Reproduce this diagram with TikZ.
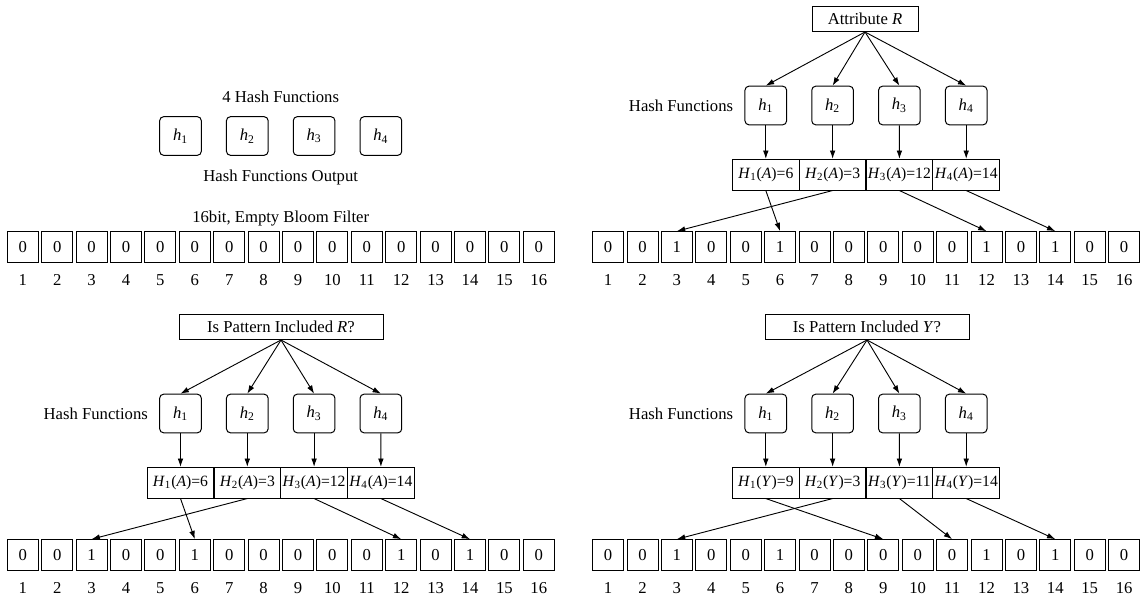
\documentclass[tikz,border=0pt]{standalone}
\usepackage{fontspec}
\setmainfont{Liberation Serif}
\usetikzlibrary{positioning,arrows.meta}

\begin{document}
\begin{tikzpicture}[x=0.6pt,y=-0.6pt,
  every node/.style={inner sep=0pt,font=\fontsize{10}{12}\selectfont},%
  bx/.style={draw,line width=0.6pt},%
  bit/.style={bx,minimum width=18.6pt,minimum height=18.4pt},%
  hf/.style={bx,rounded corners=2.4pt,minimum width=25pt,minimum height=23.2pt},%
  hv/.style={bx,minimum width=40.2pt,minimum height=18.4pt,font=\fontsize{9.4}{11}\selectfont},%
  q/.style={bx,minimum height=15pt},%
  e/.style={-{Latex[length=5pt,width=3.4pt]},line width=0.55pt},%
  ]
  \useasboundingbox (0,0) rectangle (1148,599);

  % empty filter
  \node (e-title) at (280.7,97) {4 Hash Functions};
  \foreach \k in {1,...,4}
    \node (e-h\k) [hf] at ({180.5+(\k-1)*66.8},136) {\textit{h}\textsubscript{\k}};
  \node (e-out) at (280.7,177) {Hash Functions Output};
  \node (e-cap) at (280.7,218.5) {16bit, Empty Bloom Filter};
  \foreach \v [count=\i] in {0,0,0,0,0,0,0,0,0,0,0,0,0,0,0,0} {
    \node (e-b\i) [bit] at ({22.8+(\i-1)*34.4},247) {\v};
    \node (e-n\i) at ({22.8+(\i-1)*34.4},280) {\i};
  }

  % insert attribute R
  \node (a-src) [q,minimum width=63.6pt] at (865,19) {Attribute \textit{R}};
  \foreach \k in {1,...,4}
    \node (a-h\k) [hf] at ({765.8+(\k-1)*66.8},105.5) {\textit{h}\textsubscript{\k}};
  \node (a-lbl) [left=6.6pt of a-h1] {Hash Functions};
  \node (a-H1) [hv] at (765.8,174.7) {\textit{H}\textsubscript{1}(\textit{A})=6};
  \node (a-H2) [hv] at (832.6,174.7) {\textit{H}\textsubscript{2}(\textit{A})=3};
  \node (a-H3) [hv] at (899.4,174.7) {\textit{H}\textsubscript{3}(\textit{A})=12};
  \node (a-H4) [hv] at (966.2,174.7) {\textit{H}\textsubscript{4}(\textit{A})=14};
  \foreach \v [count=\i] in {0,0,1,0,0,1,0,0,0,0,0,1,0,1,0,0} {
    \node (a-b\i) [bit] at ({608.1+(\i-1)*34.4},247) {\v};
    \node (a-n\i) at ({608.1+(\i-1)*34.4},280) {\i};
  }
  \foreach \k in {1,...,4} {
    \draw [e] (a-src.south) -- (a-h\k.north);
    \draw [e] (a-h\k) -- (a-H\k);
  }
  \draw [e] (a-H1.south) -- (a-b6.north);
  \draw [e] (a-H2.south) -- (a-b3.north);
  \draw [e] (a-H3.south) -- (a-b12.north);
  \draw [e] (a-H4.south) -- (a-b14.north);

  % query R
  \node (r-src) [q,minimum width=122.4pt] at (281,327) {Is Pattern Included \textit{R}?};
  \foreach \k in {1,...,4}
    \node (r-h\k) [hf] at ({180.5+(\k-1)*66.8},413.5) {\textit{h}\textsubscript{\k}};
  \node (r-lbl) [left=6.6pt of r-h1] {Hash Functions};
  \node (r-H1) [hv] at (180.5,482.7) {\textit{H}\textsubscript{1}(\textit{A})=6};
  \node (r-H2) [hv] at (247.3,482.7) {\textit{H}\textsubscript{2}(\textit{A})=3};
  \node (r-H3) [hv] at (314.1,482.7) {\textit{H}\textsubscript{3}(\textit{A})=12};
  \node (r-H4) [hv] at (380.9,482.7) {\textit{H}\textsubscript{4}(\textit{A})=14};
  \foreach \v [count=\i] in {0,0,1,0,0,1,0,0,0,0,0,1,0,1,0,0} {
    \node (r-b\i) [bit] at ({22.8+(\i-1)*34.4},555) {\v};
    \node (r-n\i) at ({22.8+(\i-1)*34.4},588) {\i};
  }
  \foreach \k in {1,...,4} {
    \draw [e] (r-src.south) -- (r-h\k.north);
    \draw [e] (r-h\k) -- (r-H\k);
  }
  \draw [e] (r-H1.south) -- (r-b6.north);
  \draw [e] (r-H2.south) -- (r-b3.north);
  \draw [e] (r-H3.south) -- (r-b12.north);
  \draw [e] (r-H4.south) -- (r-b14.north);

  % query Y
  \node (y-src) [q,minimum width=122.4pt] at (867,327) {Is Pattern Included \textit{Y}?};
  \foreach \k in {1,...,4}
    \node (y-h\k) [hf] at ({765.8+(\k-1)*66.8},413.5) {\textit{h}\textsubscript{\k}};
  \node (y-lbl) [left=6.6pt of y-h1] {Hash Functions};
  \node (y-H1) [hv] at (765.8,482.7) {\textit{H}\textsubscript{1}(\textit{Y})=9};
  \node (y-H2) [hv] at (832.6,482.7) {\textit{H}\textsubscript{2}(\textit{Y})=3};
  \node (y-H3) [hv] at (899.4,482.7) {\textit{H}\textsubscript{3}(\textit{Y})=11};
  \node (y-H4) [hv] at (966.2,482.7) {\textit{H}\textsubscript{4}(\textit{Y})=14};
  \foreach \v [count=\i] in {0,0,1,0,0,1,0,0,0,0,0,1,0,1,0,0} {
    \node (y-b\i) [bit] at ({608.1+(\i-1)*34.4},555) {\v};
    \node (y-n\i) at ({608.1+(\i-1)*34.4},588) {\i};
  }
  \foreach \k in {1,...,4} {
    \draw [e] (y-src.south) -- (y-h\k.north);
    \draw [e] (y-h\k) -- (y-H\k);
  }
  \draw [e] (y-H1.south) -- (y-b9.north);
  \draw [e] (y-H2.south) -- (y-b3.north);
  \draw [e] (y-H3.south) -- (y-b11.north);
  \draw [e] (y-H4.south) -- (y-b14.north);
\end{tikzpicture}
\end{document}
